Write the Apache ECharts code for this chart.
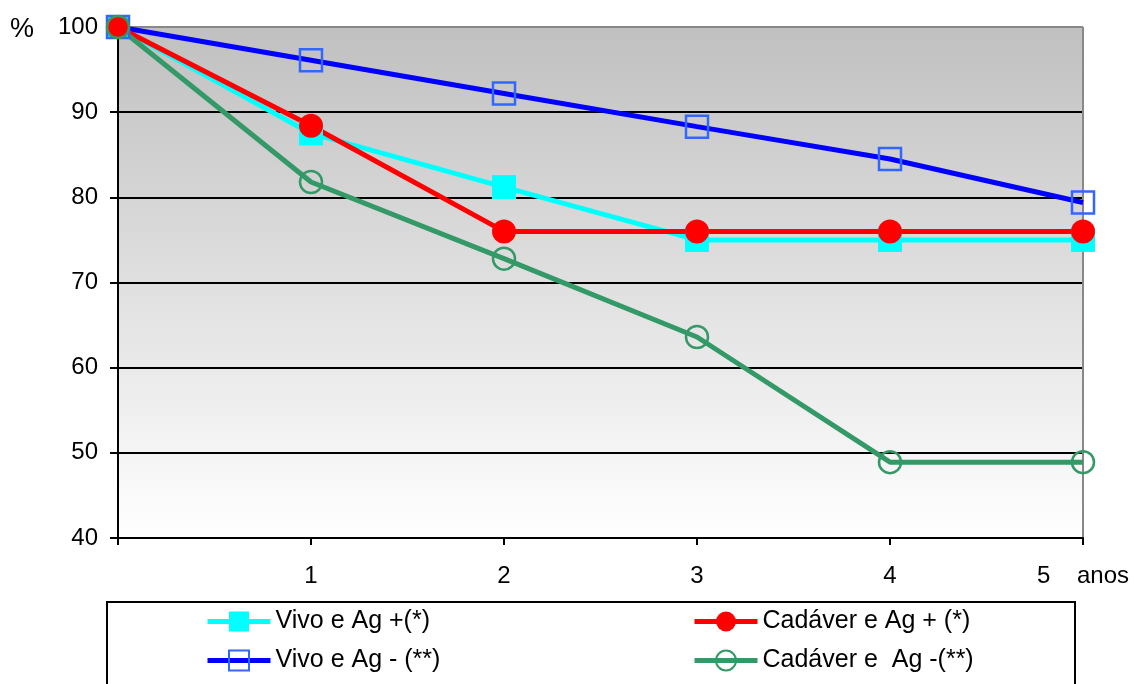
<!DOCTYPE html>
<html>
<head>
<meta charset="utf-8">
<script src="https://cdn.jsdelivr.net/npm/echarts@6/dist/echarts.min.js"></script>
<style>
  html, body { margin: 0; padding: 0; background: #fff; }
  #chart { width: 1134px; height: 684px; }
</style>
</head>
<body>
<div id="chart"></div>
<script>
// Anos de seguimento
const anos = [0, 1, 2, 3, 4, 5];
const yTicks = [40, 50, 60, 70, 80, 90, 100];

// Sobrevida (%) por grupo
const vivoAgPos = [100, 87.5, 81.2, 75, 75, 75];
const cadaverAgPos = [100, 88.4, 76, 76, 76, 76];
const vivoAgNeg = [100, 96.1, 92.2, 88.3, 84.5, 79.4];
const cadaverAgNeg = [100, 81.8, 72.8, 63.6, 48.9, 48.9];

const nomes = ['Vivo e Ag +(*)', 'Cadáver e Ag + (*)', 'Vivo e Ag - (**)', 'Cadáver e  Ag -(**)'];

const pts = arr => arr.map((v, i) => [anos[i], v]);
const font = 'Liberation Sans, Arial, sans-serif';

const chart = echarts.init(document.getElementById('chart'), null, { renderer: 'canvas' });

const serie = (name, data, color, symbol, fill, border, size) => ({
  name, type: 'line', data: pts(data),
  symbol, symbolSize: size, showSymbol: true,
  lineStyle: { color, width: 5 },
  itemStyle: { color: fill, borderColor: border, borderWidth: fill === 'transparent' ? 2.5 : 0 },
  emphasis: { disabled: true },
  clip: false, animation: false
});

// two-row legend column, placed inside the framed box below the plot
const legendColumn = (items, left) => ({
  data: items, left, top: 609, height: 75,
  orient: 'vertical', padding: 0,
  itemWidth: 63, itemHeight: 25, itemGap: 14,
  textStyle: { fontFamily: font, fontSize: 25, color: '#000' },
  lineStyle: { width: 5 },
  selectedMode: false
});

chart.setOption({
  animation: false,
  grid: {
    left: 118, right: 51, top: 27, bottom: 146, containLabel: false,
    show: true, borderWidth: 0,
    backgroundColor: {
      type: 'linear', x: 0, y: 0, x2: 0, y2: 1,
      colorStops: [{ offset: 0, color: '#c0c0c0' }, { offset: 1, color: '#ffffff' }]
    }
  },
  xAxis: {
    type: 'value', min: 0, max: 5, interval: 1,
    axisLine: { show: true, onZero: false, lineStyle: { color: '#000', width: 2 } },
    axisTick: { show: true, length: 7, lineStyle: { color: '#000', width: 2 } },
    axisLabel: {
      color: '#000', fontFamily: font, fontSize: 24, margin: 26,
      formatter: v => (v === 0 ? '' : v === 5 ? '5    anos' : String(v))
    },
    splitLine: { show: true, lineStyle: { color: ['transparent', 'transparent', 'transparent', 'transparent', 'transparent', '#888'], width: 2 } }
  },
  yAxis: {
    type: 'value', min: 40, max: 100, interval: 10,
    axisLine: { show: true, onZero: false, lineStyle: { color: '#000', width: 2 } },
    axisTick: { show: true, length: 8, lineStyle: { color: '#000', width: 2 } },
    axisLabel: { color: '#000', fontFamily: font, fontSize: 24, margin: 20 },
    splitLine: { show: true, lineStyle: { color: ['#000', '#000', '#000', '#000', '#000', '#000', '#888'], width: 2 } }
  },
  legend: [
    legendColumn([nomes[0], nomes[2]], 205),
    legendColumn([nomes[1], nomes[3]], 692)
  ],
  graphic: [
    { type: 'rect', shape: { x: 107, y: 602, width: 968, height: 100 },
      style: { fill: 'none', stroke: '#000', lineWidth: 2 }, silent: true, z: -1 },
    { type: 'text', left: 10, top: 16,
      style: { text: '%', fontFamily: font, fontSize: 27, fill: '#000' } }
  ],
  series: [
    serie(nomes[0], vivoAgPos, '#00ffff', 'rect', '#00ffff', '#00ffff', 24),
    serie(nomes[2], vivoAgNeg, '#0000ff', 'rect', 'transparent', '#3366ff', 22),
    serie(nomes[1], cadaverAgPos, '#ff0000', 'circle', '#ff0000', '#ff0000', 24),
    serie(nomes[3], cadaverAgNeg, '#339966', 'circle', 'transparent', '#339966', 22)
  ]
});
</script>
</body>
</html>
